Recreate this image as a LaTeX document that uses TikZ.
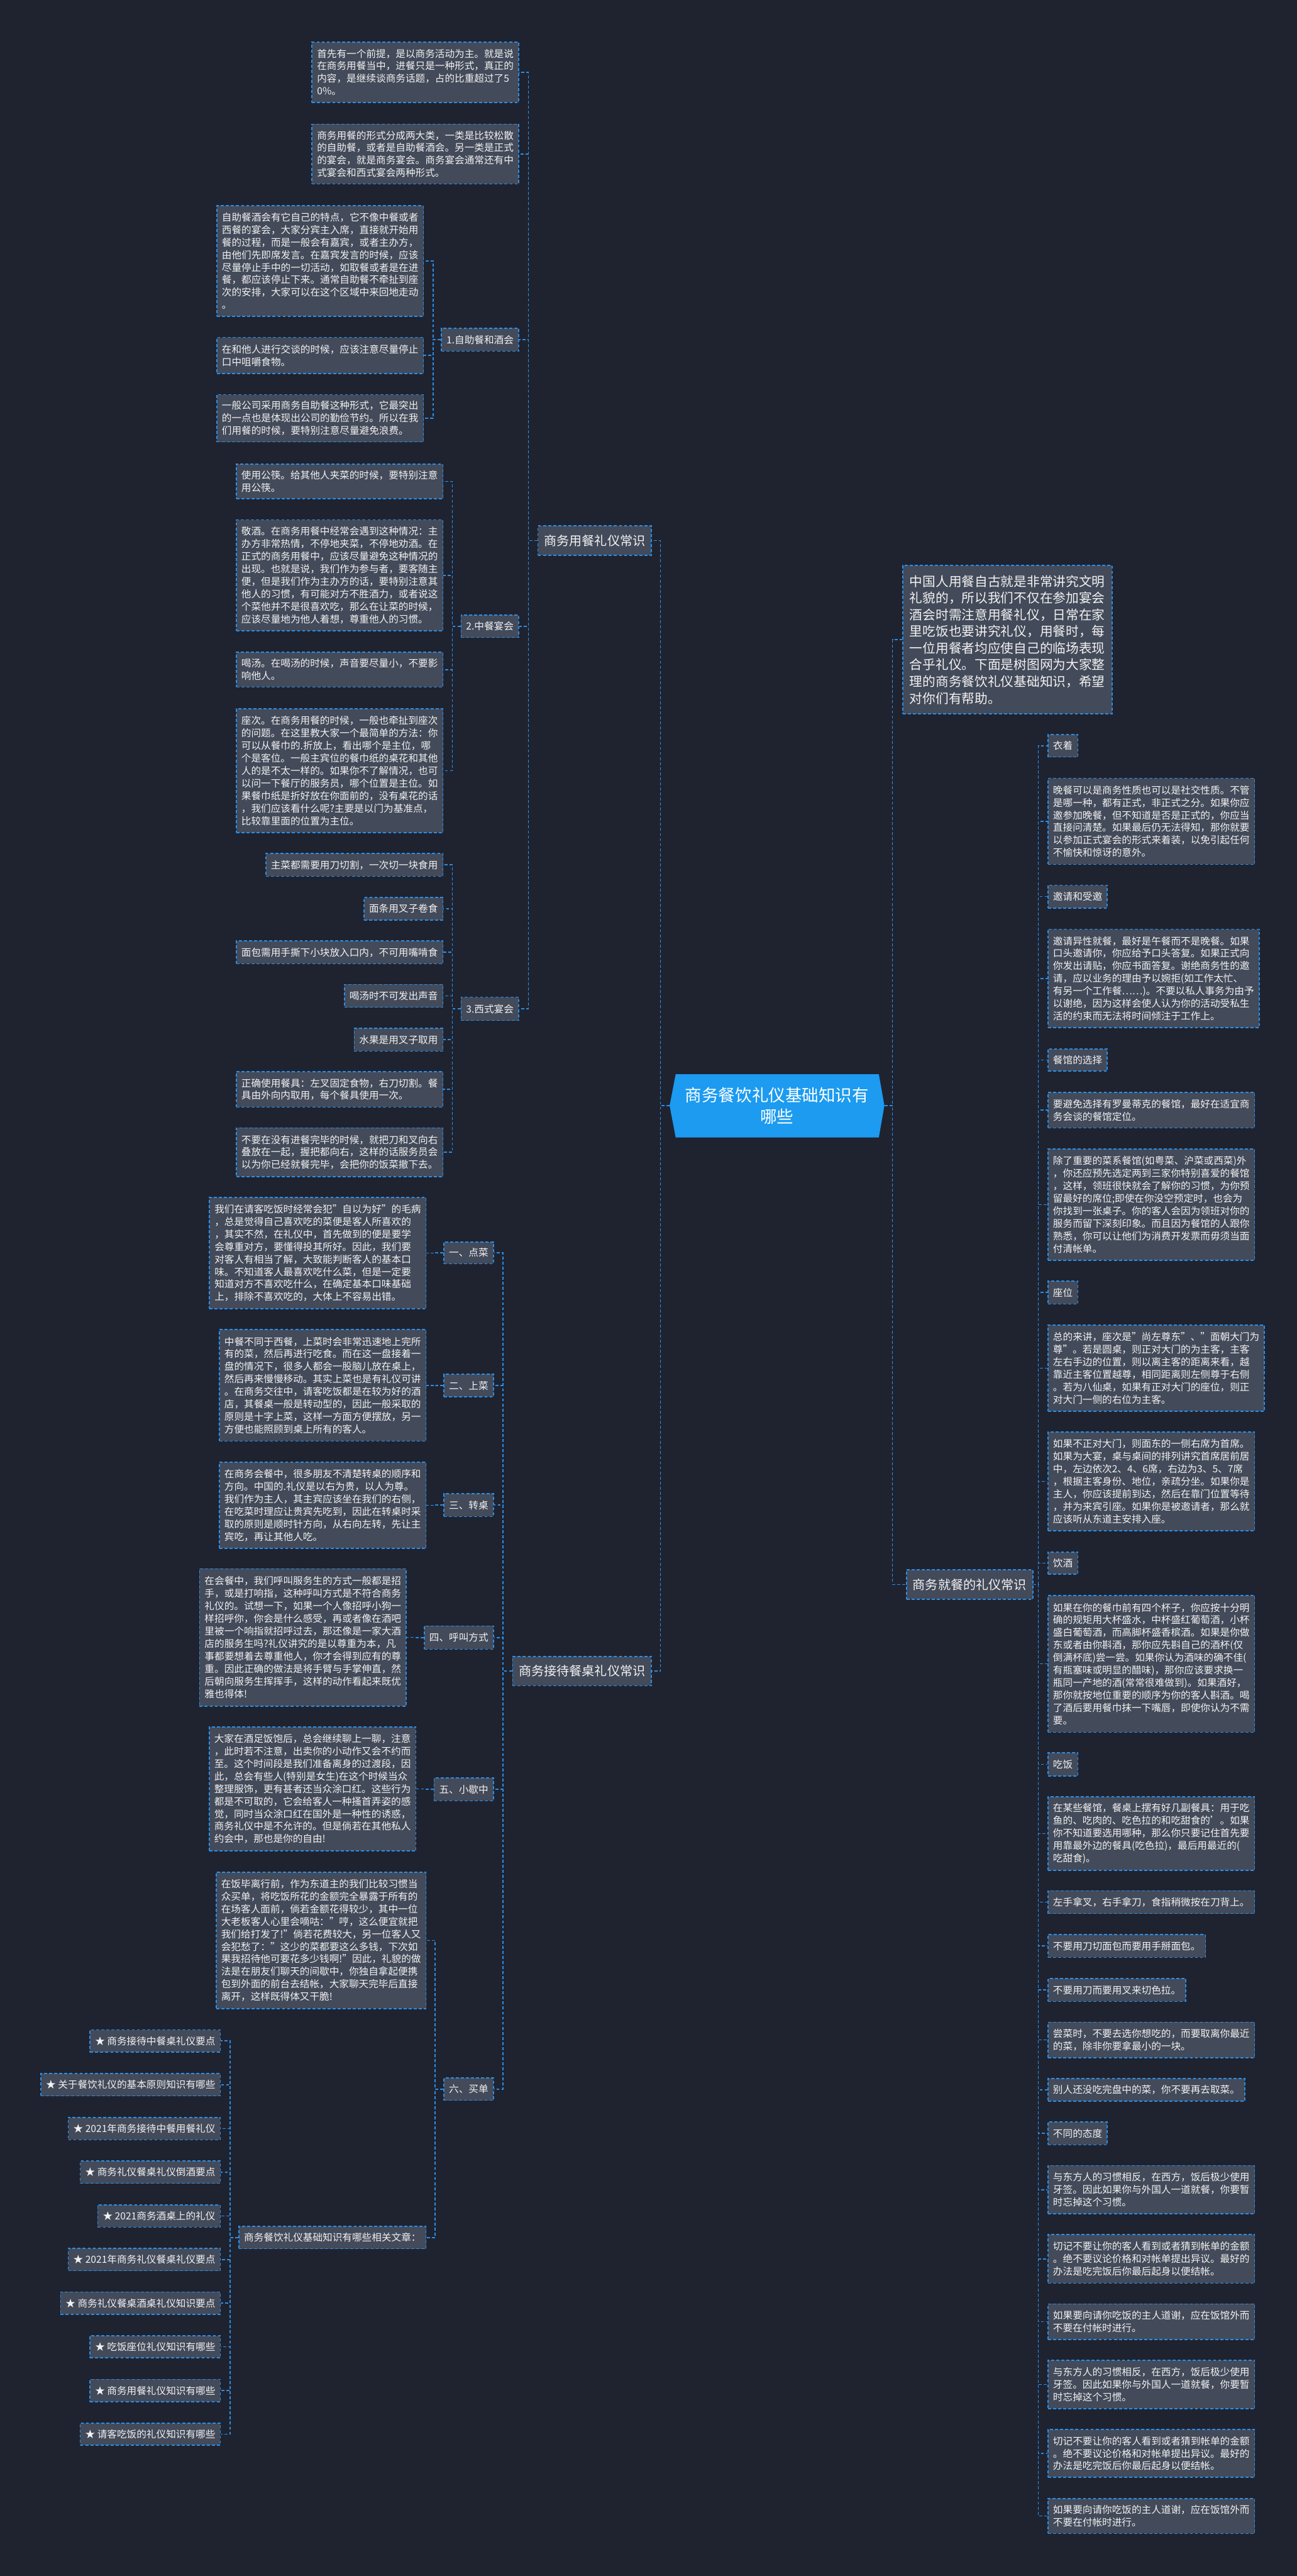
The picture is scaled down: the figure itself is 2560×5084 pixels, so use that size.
\documentclass[tikz,border=0pt]{standalone}
\usepackage{fontspec}
\setmainfont{Noto Sans CJK SC}
\definecolor{bg}{HTML}{1F2330}
\definecolor{boxfill}{HTML}{434A59}
\definecolor{lineblue}{HTML}{2A8EE6}
\definecolor{titleblue}{HTML}{1C9BF0}
\definecolor{txt}{HTML}{F2F2F2}
\begin{document}
\begin{tikzpicture}[x=1pt,y=-1pt,
  conn/.style={draw=lineblue, line width=2pt, dash pattern=on 6pt off 4pt},
  bx/.style={draw=lineblue, line width=2pt, dash pattern=on 6pt off 4pt, fill=boxfill, text=txt,
    font=\fontsize{19.4pt}{24.7pt}\selectfont, align=left, inner xsep=10pt, inner ysep=3pt},
  lb/.style={bx, anchor=east},
  rb/.style={bx, anchor=west},
  big/.style={font=\fontsize{25pt}{33pt}\selectfont, inner xsep=12pt},
  intro/.style={font=\fontsize{25.7pt}{33pt}\selectfont, inner xsep=14pt}]
\fill[bg] (0,0) rectangle (2560,5084);
\useasboundingbox (0,0) rectangle (2560,5084);

% spine coordinates
\coordinate (sTL) at (1304,0);
\coordinate (sTR) at (1762,0);
\coordinate (sA) at (1043,0);
\coordinate (sL1) at (855,0);
\coordinate (sL2) at (893,0);
\coordinate (sB) at (993,0);
\coordinate (sP) at (860,0);
\coordinate (sP4) at (821,0);
\coordinate (sP5) at (840,0);
\coordinate (sP6) at (859,0);
\coordinate (sRel) at (454,0);
\coordinate (sC) at (2050,0);

% title
\fill[titleblue] (1334,2120) -- (1735,2120) -- (1746,2182) -- (1735,2245) -- (1334,2245) -- (1322,2182) -- cycle;
\node[text=white, font=\fontsize{33pt}{42pt}\selectfont, align=center, minimum width=400pt, minimum height=125pt] (T) at (1534,2182) {商务餐饮礼仪基础知识有\\哪些};
\coordinate (Tl) at (1322,2182);
\coordinate (Tr) at (1746,2182);

% ---------- left: main branches
\node[lb, big, minimum height=58pt] (A) at (1287,1067) {商务用餐礼仪常识};
\node[lb, big, minimum height=58pt] (B) at (1287,3298) {商务接待餐桌礼仪常识};

% A children
\node[lb, minimum height=119pt] (a1) at (1025,142.5) {首先有一个前提，是以商务活动为主。就是说\\在商务用餐当中，进餐只是一种形式，真正的\\内容，是继续谈商务话题，占的比重超过了5\\0\%。};
\node[lb, minimum height=118pt] (a2) at (1025,304) {商务用餐的形式分成两大类，一类是比较松散\\的自助餐，或者是自助餐酒会。另一类是正式\\的宴会，就是商务宴会。商务宴会通常还有中\\式宴会和西式宴会两种形式。};
\node[lb, minimum height=45pt] (L1) at (1025,670.5) {1.自助餐和酒会};
\node[lb, minimum height=44pt] (L2) at (1025,1236) {2.中餐宴会};
\node[lb, minimum height=46pt] (L3) at (1025,1991) {3.西式宴会};

% L1 children
\node[lb, minimum height=218pt] (b3) at (837,515) {自助餐酒会有它自己的特点，它不像中餐或者\\西餐的宴会，大家分宾主入席，直接就开始用\\餐的过程，而是一般会有嘉宾，或者主办方，\\由他们先即席发言。在嘉宾发言的时候，应该\\尽量停止手中的一切活动，如取餐或者是在进\\餐，都应该停止下来。通常自助餐不牵扯到座\\次的安排，大家可以在这个区域中来回地走动\\。};
\node[lb, minimum height=71pt] (b4) at (837,701.5) {在和他人进行交谈的时候，应该注意尽量停止\\口中咀嚼食物。};
\node[lb, minimum height=93pt] (b5) at (837,825.5) {一般公司采用商务自助餐这种形式，它最突出\\的一点也是体现出公司的勤俭节约。所以在我\\们用餐的时候，要特别注意尽量避免浪费。};

% L2 children
\node[lb, minimum height=68pt] (b6) at (875.5,950) {使用公筷。给其他人夹菜的时候，要特别注意\\用公筷。};
\node[lb, minimum height=219pt] (b7) at (875.5,1135.5) {敬酒。在商务用餐中经常会遇到这种情况：主\\办方非常热情，不停地夹菜，不停地劝酒。在\\正式的商务用餐中，应该尽量避免这种情况的\\出现。也就是说，我们作为参与者，要客随主\\便，但是我们作为主办方的话，要特别注意其\\他人的习惯，有可能对方不胜酒力，或者说这\\个菜他并不是很喜欢吃，那么在让菜的时候，\\应该尽量地为他人着想，尊重他人的习惯。};
\node[lb, minimum height=69pt] (b8) at (875.5,1321.5) {喝汤。在喝汤的时候，声音要尽量小，不要影\\响他人。};
\node[lb, minimum height=244pt] (b9) at (875.5,1521) {座次。在商务用餐的时候，一般也牵扯到座次\\的问题。在这里教大家一个最简单的方法：你\\可以从餐巾的.折放上，看出哪个是主位，哪\\个是客位。一般主宾位的餐巾纸的桌花和其他\\人的是不太一样的。如果你不了解情况，也可\\以问一下餐厅的服务员，哪个位置是主位。如\\果餐巾纸是折好放在你面前的，没有桌花的话\\，我们应该看什么呢?主要是以门为基准点，\\比较靠里面的位置为主位。};

% L3 children
\node[lb, minimum height=45pt] (b10) at (875.5,1707) {主菜都需要用刀切割，一次切一块食用};
\node[lb, minimum height=45pt] (b11) at (875.5,1793.5) {面条用叉子卷食};
\node[lb, minimum height=45pt] (b12) at (875.5,1879.5) {面包需用手撕下小块放入口内，不可用嘴啃食};
\node[lb, minimum height=45pt] (b13) at (875.5,1965.5) {喝汤时不可发出声音};
\node[lb, minimum height=45pt] (b14) at (875.5,2052) {水果是用叉子取用};
\node[lb, minimum height=70pt] (b15) at (875.5,2150) {正确使用餐具：左叉固定食物，右刀切割。餐\\具由外向内取用，每个餐具使用一次。};
\node[lb, minimum height=96pt] (b16) at (875.5,2274) {不要在没有进餐完毕的时候，就把刀和叉向右\\叠放在一起，握把都向右，这样的话服务员会\\以为你已经就餐完毕，会把你的饭菜撤下去。};

% B children
\node[lb, minimum height=43pt] (P1) at (975,2472.5) {一、点菜};
\node[lb, minimum height=45pt] (P2) at (975,2734.5) {二、上菜};
\node[lb, minimum height=45pt] (P3) at (975,2970.5) {三、转桌};
\node[lb, minimum height=46pt] (P4) at (975,3232) {四、呼叫方式};
\node[lb, minimum height=45pt] (P5) at (975,3531.5) {五、小歇中};
\node[lb, minimum height=44pt] (P6) at (975,4123) {六、买单};

\node[lb, minimum height=220pt] (c17) at (842,2473) {我们在请客吃饭时经常会犯"自以为好"的毛病\\，总是觉得自己喜欢吃的菜便是客人所喜欢的\\，其实不然，在礼仪中，首先做到的便是要学\\会尊重对方，要懂得投其所好。因此，我们要\\对客人有相当了解，大致能判断客人的基本口\\味。不知道客人最喜欢吃什么菜，但是一定要\\知道对方不喜欢吃什么，在确定基本口味基础\\上，排除不喜欢吃的，大体上不容易出错。};
\node[lb, minimum height=220pt] (c18) at (842,2734) {中餐不同于西餐，上菜时会非常迅速地上完所\\有的菜，然后再进行吃食。而在这一盘接着一\\盘的情况下，很多人都会一股脑儿放在桌上，\\然后再来慢慢移动。其实上菜也是有礼仪可讲\\。在商务交往中，请客吃饭都是在较为好的酒\\店，其餐桌一般是转动型的，因此一般采取的\\原则是十字上菜，这样一方面方便摆放，另一\\方便也能照顾到桌上所有的客人。};
\node[lb, minimum height=170pt] (c19) at (842,2971) {在商务会餐中，很多朋友不清楚转桌的顺序和\\方向。中国的.礼仪是以右为贵，以人为尊。\\我们作为主人，其主宾应该坐在我们的右侧，\\在吃菜时理应让贵宾先吃到，因此在转桌时采\\取的原则是顺时针方向，从右向左转，先让主\\宾吃，再让其他人吃。};
\node[lb, minimum height=271pt] (c20) at (803,3231.5) {在会餐中，我们呼叫服务生的方式一般都是招\\手，或是打响指，这种呼叫方式是不符合商务\\礼仪的。试想一下，如果一个人像招呼小狗一\\样招呼你，你会是什么感受，再或者像在酒吧\\里被一个响指就招呼过去，那还像是一家大酒\\店的服务生吗?礼仪讲究的是以尊重为本，凡\\事都要想着去尊重他人，你才会得到应有的尊\\重。因此正确的做法是将手臂与手掌伸直，然\\后朝向服务生挥挥手，这样的动作看起来既优\\雅也得体!};
\node[lb, minimum height=245pt] (c21) at (822,3530.5) {大家在酒足饭饱后，总会继续聊上一聊，注意\\，此时若不注意，出卖你的小动作又会不约而\\至。这个时间段是我们准备离身的过渡段，因\\此，总会有些人(特别是女生)在这个时候当众\\整理服饰，更有甚者还当众涂口红。这些行为\\都是不可取的，它会给客人一种搔首弄姿的感\\觉，同时当众涂口红在国外是一种性的诱惑，\\商务礼仪中是不允许的。但是倘若在其他私人\\约会中，那也是你的自由!};
\node[lb, minimum height=269pt] (c22) at (842,3829.5) {在饭毕离行前，作为东道主的我们比较习惯当\\众买单，将吃饭所花的金额完全暴露于所有的\\在场客人面前，倘若金额花得较少，其中一位\\大老板客人心里会嘀咕："哼，这么便宜就把\\我们给打发了!"倘若花费较大，另一位客人又\\会犯愁了："这少的菜都要这么多钱，下次如\\果我招待他可要花多少钱啊!"因此，礼貌的做\\法是在朋友们聊天的间歇中，你独自拿起便携\\包到外面的前台去结帐，大家聊天完毕后直接\\离开，这样既得体又干脆!};
\node[lb, minimum height=44pt] (Rel) at (842,4416) {商务餐饮礼仪基础知识有哪些相关文章：};

\node[lb, minimum height=44pt] (s1) at (436,4028) {★ 商务接待中餐桌礼仪要点};
\node[lb, minimum height=44pt] (s2) at (436,4114.5) {★ 关于餐饮礼仪的基本原则知识有哪些};
\node[lb, minimum height=44pt] (s3) at (436,4201) {★ 2021年商务接待中餐用餐礼仪};
\node[lb, minimum height=44pt] (s4) at (436,4287) {★ 商务礼仪餐桌礼仪倒酒要点};
\node[lb, minimum height=44pt] (s5) at (436,4373.5) {★ 2021商务酒桌上的礼仪};
\node[lb, minimum height=44pt] (s6) at (436,4459.5) {★ 2021年商务礼仪餐桌礼仪要点};
\node[lb, minimum height=44pt] (s7) at (436,4545.5) {★ 商务礼仪餐桌酒桌礼仪知识要点};
\node[lb, minimum height=44pt] (s8) at (436,4631.5) {★ 吃饭座位礼仪知识有哪些};
\node[lb, minimum height=44pt] (s9) at (436,4718) {★ 商务用餐礼仪知识有哪些};
\node[lb, minimum height=44pt] (s10) at (436,4804) {★ 请客吃饭的礼仪知识有哪些};

% ---------- right side
\node[rb, intro, minimum height=293pt] (I) at (1781,1262.5) {中国人用餐自古就是非常讲究文明\\礼貌的，所以我们不仅在参加宴会\\酒会时需注意用餐礼仪，日常在家\\里吃饭也要讲究礼仪，用餐时，每\\一位用餐者均应使自己的临场表现\\合乎礼仪。下面是树图网为大家整\\理的商务餐饮礼仪基础知识，希望\\对你们有帮助。};
\node[rb, big, minimum height=58pt] (C) at (1789,3127) {商务就餐的礼仪常识};

\node[rb, minimum height=44pt] (r1) at (2068,1472) {衣着};
\node[rb, minimum height=170pt] (r2) at (2068,1621) {晚餐可以是商务性质也可以是社交性质。不管\\是哪一种，都有正式，非正式之分。如果你应\\邀参加晚餐，但不知道是否是正式的，你应当\\直接问清楚。如果最后仍无法得知，那你就要\\以参加正式宴会的形式来着装，以免引起任何\\不愉快和惊讶的意外。};
\node[rb, minimum height=45pt] (r3) at (2068,1769.5) {邀请和受邀};
\node[rb, minimum height=194pt] (r4) at (2068,1931) {邀请异性就餐，最好是午餐而不是晚餐。如果\\口头邀请你，你应给予口头答复。如果正式向\\你发出请贴，你应书面答复。谢绝商务性的邀\\请，应以业务的理由予以婉拒(如工作太忙、\\有另一个工作餐……)。不要以私人事务为由予\\以谢绝，因为这样会使人认为你的活动受私生\\活的约束而无法将时间倾注于工作上。};
\node[rb, minimum height=44pt] (r5) at (2068,2092) {餐馆的选择};
\node[rb, minimum height=70pt] (r6) at (2068,2191) {要避免选择有罗曼蒂克的餐馆，最好在适宜商\\务会谈的餐馆定位。};
\node[rb, minimum height=219pt] (r7) at (2068,2377.5) {除了重要的菜系餐馆(如粤菜、沪菜或西菜)外\\，你还应预先选定两到三家你特别喜爱的餐馆\\，这样，领班很快就会了解你的习惯，为你预\\留最好的席位;即使在你没空预定时，也会为\\你找到一张桌子。你的客人会因为领班对你的\\服务而留下深刻印象。而且因为餐馆的人跟你\\熟悉，你可以让他们为消费开发票而毋须当面\\付清帐单。};
\node[rb, minimum height=45pt] (r8) at (2068,2551) {座位};
\node[rb, minimum height=170pt] (r9) at (2068,2700) {总的来讲，座次是"尚左尊东"、"面朝大门为\\尊"。若是圆桌，则正对大门的为主客，主客\\左右手边的位置，则以离主客的距离来看，越\\靠近主客位置越尊，相同距离则左侧尊于右侧\\。若为八仙桌，如果有正对大门的座位，则正\\对大门一侧的右位为主客。};
\node[rb, minimum height=195pt] (r10) at (2068,2923.5) {如果不正对大门，则面东的一侧右席为首席。\\如果为大宴，桌与桌间的排列讲究首席居前居\\中，左边依次2、4、6席，右边为3、5、7席\\，根据主客身份、地位，亲疏分坐。如果你是\\主人，你应该提前到达，然后在靠门位置等待\\，并为来宾引座。如果你是被邀请者，那么就\\应该听从东道主安排入座。};
\node[rb, minimum height=44pt] (r11) at (2068,3085) {饮酒};
\node[rb, minimum height=270pt] (r12) at (2068,3283.75) {如果在你的餐巾前有四个杯子，你应按十分明\\确的规矩用大杯盛水，中杯盛红葡萄酒，小杯\\盛白葡萄酒，而高脚杯盛香槟酒。如果是你做\\东或者由你斟酒，那你应先斟自己的酒杯(仅\\倒满杯底)尝一尝。如果你认为酒味的确不佳(\\有瓶塞味或明显的醋味)，那你应该要求换一\\瓶同一产地的酒(常常很难做到)。如果酒好，\\那你就按地位重要的顺序为你的客人斟酒。喝\\了酒后要用餐巾抹一下嘴唇，即使你认为不需\\要。};
\node[rb, minimum height=46pt] (r13) at (2068,3482) {吃饭};
\node[rb, minimum height=145pt] (r14) at (2068,3618.5) {在某些餐馆，餐桌上摆有好几副餐具：用于吃\\鱼的、吃肉的、吃色拉的和吃甜食的'。如果\\你不知道要选用哪种，那么你只要记住首先要\\用靠最外边的餐具(吃色拉)，最后用最近的(\\吃甜食)。};
\node[rb, minimum height=45pt] (r15) at (2068,3754) {左手拿叉，右手拿刀，食指稍微按在刀背上。};
\node[rb, minimum height=45pt] (r16) at (2068,3840.5) {不要用刀切面包而要用手掰面包。};
\node[rb, minimum height=45pt] (r17) at (2068,3927.5) {不要用刀而要用叉来切色拉。};
\node[rb, minimum height=70pt] (r18) at (2068,4026) {尝菜时，不要去选你想吃的，而要取离你最近\\的菜，除非你要拿最小的一块。};
\node[rb, minimum height=45pt] (r19) at (2068,4124.5) {别人还没吃完盘中的菜，你不要再去取菜。};
\node[rb, minimum height=45pt] (r20) at (2068,4210.5) {不同的态度};
\node[rb, minimum height=95pt] (r21) at (2068,4321.5) {与东方人的习惯相反，在西方，饭后极少使用\\牙签。因此如果你与外国人一道就餐，你要暂\\时忘掉这个习惯。};
\node[rb, minimum height=96pt] (r22) at (2068,4458) {切记不要让你的客人看到或者猜到帐单的金额\\。绝不要议论价格和对帐单提出异议。最好的\\办法是吃完饭后你最后起身以便结帐。};
\node[rb, minimum height=70pt] (r23) at (2068,4582) {如果要向请你吃饭的主人道谢，应在饭馆外而\\不要在付帐时进行。};
\node[rb, minimum height=96pt] (r24) at (2068,4706) {与东方人的习惯相反，在西方，饭后极少使用\\牙签。因此如果你与外国人一道就餐，你要暂\\时忘掉这个习惯。};
\node[rb, minimum height=94pt] (r25) at (2068,4842) {切记不要让你的客人看到或者猜到帐单的金额\\。绝不要议论价格和对帐单提出异议。最好的\\办法是吃完饭后你最后起身以便结帐。};
\node[rb, minimum height=69pt] (r26) at (2068,4965.5) {如果要向请你吃饭的主人道谢，应在饭馆外而\\不要在付帐时进行。};

% ---------- connectors
\foreach \c in {A,B} \draw[conn] (Tl) -- (Tl -| sTL) |- (\c.east);
\foreach \c in {I,C} \draw[conn] (Tr) -- (Tr -| sTR) |- (\c.west);
\foreach \c in {a1,a2,L1,L2,L3} \draw[conn] (A.west) -- (A.west -| sA) |- (\c.east);
\foreach \c in {b3,b4,b5} \draw[conn] (L1.west) -- (L1.west -| sL1) |- (\c.east);
\foreach \c in {b6,b7,b8,b9} \draw[conn] (L2.west) -- (L2.west -| sL2) |- (\c.east);
\foreach \c in {b10,b11,b12,b13,b14,b15,b16} \draw[conn] (L3.west) -- (L3.west -| sL2) |- (\c.east);
\foreach \c in {P1,P2,P3,P4,P5,P6} \draw[conn] (B.west) -- (B.west -| sB) |- (\c.east);
\draw[conn] (P1.west) -- (P1.west -| sP) |- (c17.east);
\draw[conn] (P2.west) -- (P2.west -| sP) |- (c18.east);
\draw[conn] (P3.west) -- (P3.west -| sP) |- (c19.east);
\draw[conn] (P4.west) -- (P4.west -| sP4) |- (c20.east);
\draw[conn] (P5.west) -- (P5.west -| sP5) |- (c21.east);
\foreach \c in {c22,Rel} \draw[conn] (P6.west) -- (P6.west -| sP6) |- (\c.east);
\foreach \c in {s1,s2,s3,s4,s5,s6,s7,s8,s9,s10} \draw[conn] (Rel.west) -- (Rel.west -| sRel) |- (\c.east);
\foreach \c in {r1,r2,r3,r4,r5,r6,r7,r8,r9,r10,r11,r12,r13,r14,r15,r16,r17,r18,r19,r20,r21,r22,r23,r24,r25,r26} \draw[conn] (C.east) -- (C.east -| sC) |- (\c.west);
\end{tikzpicture}
\end{document}
